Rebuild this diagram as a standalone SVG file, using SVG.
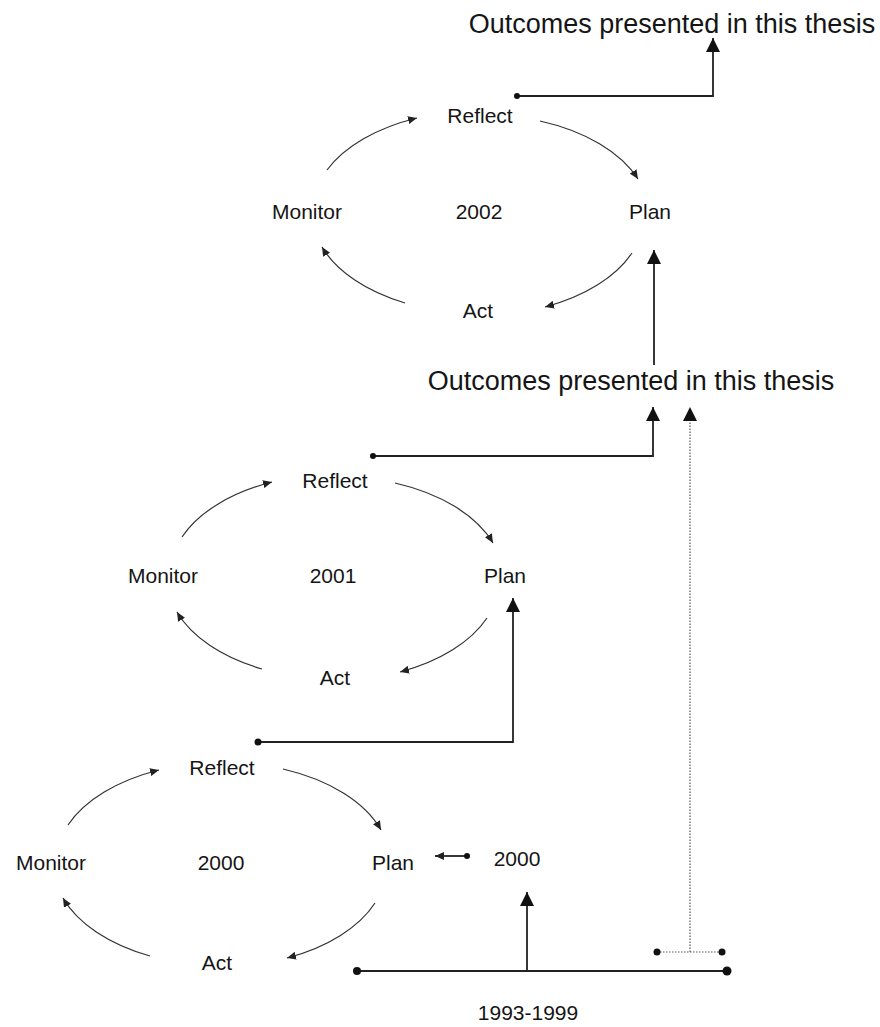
<svg xmlns="http://www.w3.org/2000/svg" width="880" height="1027" viewBox="0 0 880 1027">
<defs>
<marker id="sm" markerUnits="userSpaceOnUse" markerWidth="10" markerHeight="8" refX="9" refY="4" orient="auto"><path d="M0,0 L9,4 L0,8 z" fill="#222"/></marker>
<marker id="big" markerUnits="userSpaceOnUse" markerWidth="14" markerHeight="14" refX="14" refY="7" orient="auto"><path d="M0,0 L14,7 L0,14 z" fill="#111"/></marker>
<style>
text{font-family:"Liberation Sans",Arial,sans-serif;fill:#151515;text-anchor:middle}
.lbl{font-size:21px}
.ttl{font-size:27px}
.arc{fill:none;stroke:#333;stroke-width:1.2;marker-end:url(#sm)}
.con{fill:none;stroke:#222;stroke-width:1.8}
.ar{marker-end:url(#big)}
.dot{fill:#111}
.dotted{fill:none;stroke:#555;stroke-width:1.2;stroke-dasharray:1.5,1.5}
</style>
</defs>

<g id="title-top"><text class="ttl" x="672" y="33">Outcomes presented in this thesis</text></g>
<g id="title-mid"><text class="ttl" x="631" y="390">Outcomes presented in this thesis</text></g>

<g id="cycle-2002">
<text class="lbl" x="480" y="123">Reflect</text>
<text class="lbl" x="307" y="219">Monitor</text>
<text class="lbl" x="479" y="219">2002</text>
<text class="lbl" x="650" y="219">Plan</text>
<text class="lbl" x="478" y="318">Act</text>
</g>

<g id="cycle-2001">
<text class="lbl" x="335" y="488">Reflect</text>
<text class="lbl" x="163" y="583">Monitor</text>
<text class="lbl" x="333" y="583">2001</text>
<text class="lbl" x="505" y="583">Plan</text>
<text class="lbl" x="335" y="685">Act</text>
</g>

<g id="cycle-2000">
<text class="lbl" x="222" y="775">Reflect</text>
<text class="lbl" x="51" y="870">Monitor</text>
<text class="lbl" x="221" y="870">2000</text>
<text class="lbl" x="393" y="870">Plan</text>
<text class="lbl" x="217" y="970">Act</text>
</g>

<g id="node-2000"><text class="lbl" x="517" y="866">2000</text></g>
<g id="node-1993"><text class="lbl" x="528" y="1020">1993-1999</text></g>

<g id="connectors">
<!-- 2002 cycle, ellipse centre (480,212) -->
<path class="arc" d="M327,170 A168,100 0 0 1 417,118"/>
<path class="arc" d="M540,121 A168,100 0 0 1 638,179"/>
<path class="arc" d="M632,253 A168,100 0 0 1 545,307"/>
<path class="arc" d="M405,303 A168,100 0 0 1 322,247"/>
<!-- 2001 cycle, centre (335,577) -->
<path class="arc" d="M182,537 A168,100 0 0 1 272,482"/>
<path class="arc" d="M395,483 A168,100 0 0 1 493,543"/>
<path class="arc" d="M487,618 A168,100 0 0 1 400,672"/>
<path class="arc" d="M262,669 A168,100 0 0 1 177,612"/>
<!-- 2000 cycle, centre (222,864) -->
<path class="arc" d="M68,825 A168,100 0 0 1 159,770"/>
<path class="arc" d="M283,769 A168,100 0 0 1 381,830"/>
<path class="arc" d="M375,903 A168,100 0 0 1 287,958"/>
<path class="arc" d="M150,956 A168,100 0 0 1 63,898"/>

<!-- outcomes links -->
<path class="con ar" d="M517,96 H713 V38"/>
<circle class="dot" cx="517" cy="96" r="3"/>
<path class="con ar" d="M654,365 V250"/>
<path class="con ar" d="M373,456 H653 V407"/>
<circle class="dot" cx="373" cy="456" r="3"/>
<path class="con ar" d="M258,742 H513 V598"/>
<circle class="dot" cx="258" cy="742" r="3.5"/>

<!-- 2000 -> Plan -->
<path class="con" d="M467,856 H435" stroke-width="1.5" marker-end="url(#sm)"/>
<circle class="dot" cx="467" cy="856" r="3"/>

<!-- 1993-1999 line -->
<path class="con" d="M357,971 H727" stroke-width="2.4"/>
<circle class="dot" cx="357" cy="971" r="4"/>
<circle class="dot" cx="727" cy="971" r="4.5"/>
<path class="con ar" d="M527,971 V892"/>

<!-- dotted link -->
<path class="dotted" d="M657,952 H722"/>
<circle class="dot" cx="657" cy="952" r="3.5"/>
<circle class="dot" cx="722" cy="952" r="3.5"/>
<path class="dotted" d="M690,952 V420"/>
<path d="M683,421 L690,407 L697,421 z" fill="#111"/>
</g>
</svg>
